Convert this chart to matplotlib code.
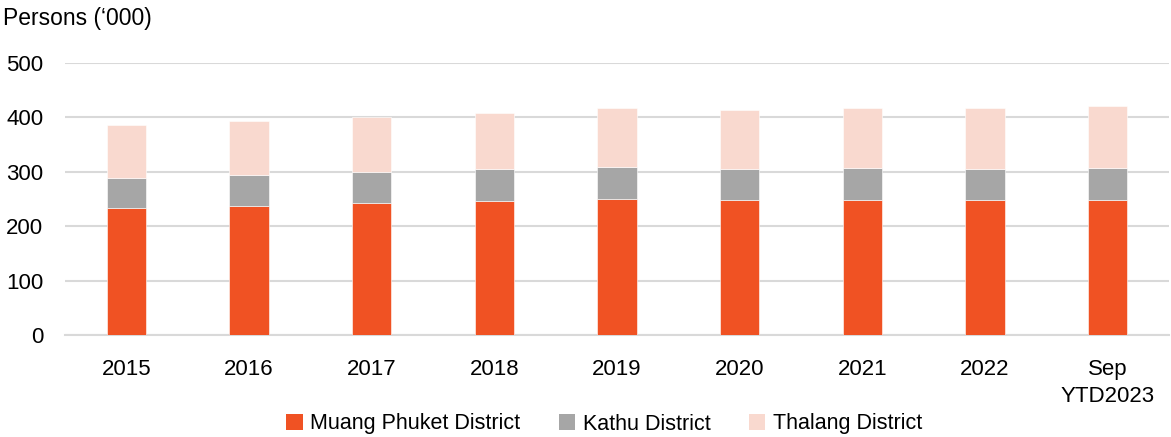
import matplotlib
matplotlib.use("Agg")
import matplotlib.pyplot as plt
from matplotlib.patches import Patch
import numpy as np

categories = ["2015", "2016", "2017", "2018", "2019", "2020", "2021", "2022", "Sep\nYTD2023"]
muang = [234, 237, 242, 246, 249, 248, 248.5, 247, 248.5]
kathu = [55, 57, 58, 59, 59.5, 57.5, 58, 58, 58]
thalang = [97, 99.5, 101, 103.5, 107.5, 107, 111, 112, 114]
series_names = ["Muang Phuket District", "Kathu District", "Thalang District"]
colors = ["#F05223", "#A6A6A6", "#F9D9CF"]

plt.rcParams['font.family'] = ['Liberation Sans Narrow', 'Liberation Sans', 'DejaVu Sans']

W, H = 1171, 437
fig = plt.figure(figsize=(W / 100, H / 100), dpi=100)
ax = fig.add_axes([65 / W, 1 - 335 / H, (1169 - 65) / W, (335 - 62.7) / H])

x = np.arange(len(categories))
m = np.array(muang)
k = np.array(kathu)
t = np.array(thalang)
bw = 0.32
ax.bar(x, m, bw, color=colors[0], edgecolor='white', linewidth=0.4, zorder=3)
ax.bar(x, k, bw, bottom=m, color=colors[1], edgecolor='white', linewidth=0.4, zorder=3)
ax.bar(x, t, bw, bottom=m + k, color=colors[2], edgecolor='white', linewidth=0.4, zorder=3)

ax.set_xlim(-0.5, len(categories) - 0.5)
ax.set_ylim(0, 500)
ax.set_yticks([0, 100, 200, 300, 400, 500])
ax.yaxis.grid(True, color='#D9D9D9', linewidth=1.5, zorder=0)
ax.set_axisbelow(True)
for s in ['top', 'right', 'left']:
    ax.spines[s].set_visible(False)
ax.spines['bottom'].set_color('#D9D9D9')
ax.spines['bottom'].set_linewidth(1.5)
ax.tick_params(axis='both', length=0, labelsize=16, colors='black')
ax.tick_params(axis='y', pad=15.5)
ax.tick_params(axis='x', pad=17)
ax.set_xticks(x)
ax.set_xticklabels(categories, linespacing=1.4, va='top')

fig.text(3 / W, 1 - 18 / H, "Persons (\u2018000)", fontsize=16.5, va='center', ha='left')

handles = [Patch(facecolor=c, edgecolor='none') for c in colors]
fig.legend(handles, series_names, loc='center', bbox_to_anchor=(0.516, 1 - 424 / H),
           ncol=3, frameon=False, fontsize=15.5, handlelength=0.75, handleheight=0.75,
           handletextpad=0.35, columnspacing=1.8, borderaxespad=0)

fig.savefig("out.png", dpi=100)
